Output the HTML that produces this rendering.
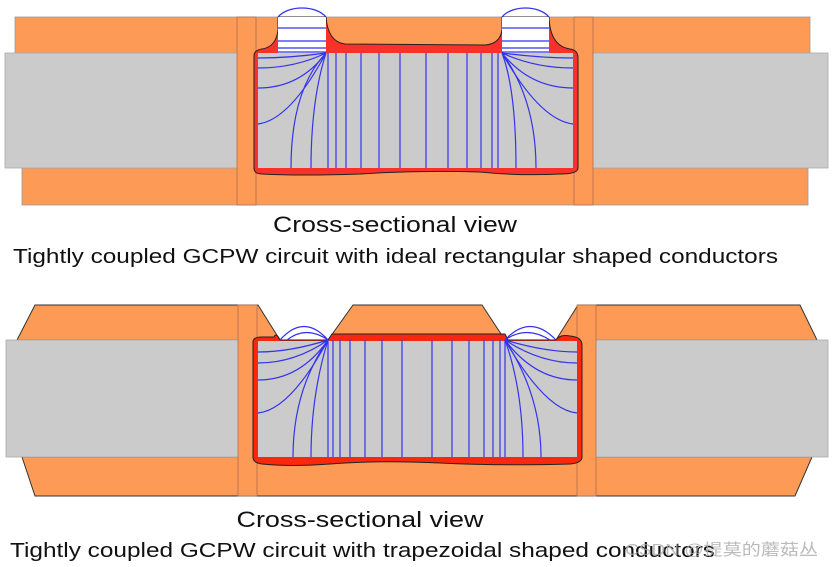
<!DOCTYPE html>
<html><head><meta charset="utf-8"><style>html,body{margin:0;padding:0;background:#fff}svg{display:block}</style></head><body>
<svg width="833" height="567" viewBox="0 0 833 567" xmlns="http://www.w3.org/2000/svg">
<!-- ===== TOP DIAGRAM ===== -->
<rect x="15" y="17" width="795" height="36" fill="#fd9a55" stroke="#999" stroke-width="0.8"/>
<rect x="22" y="168" width="786" height="37" fill="#fd9a55" stroke="#999" stroke-width="0.8"/>
<rect x="5" y="53" width="823" height="115" fill="#cbcbcb" stroke="#aaa" stroke-width="0.8"/>
<rect x="237" y="17" width="19" height="188" fill="#fd9a55" stroke="#b07050" stroke-width="0.8"/>
<rect x="574" y="17" width="19" height="188" fill="#fd9a55" stroke="#b07050" stroke-width="0.8"/>
<!-- red conductor outline -->
<path d="M254,56 Q254,50 262,49 Q276,47 278,30 L278,17 L326,17 Q328,42 345,44 L485,45 Q500,44 502,30 L502,17 L549,17 Q550,46 570,49 Q578,50 578,58 L578,168 Q578,174 560,174 Q520,176 480,172 Q420,170 360,174 Q300,176 262,174 Q254,174 254,168 Z" fill="#f8322a" stroke="#222" stroke-width="1"/>
<rect x="258" y="53" width="315" height="115" fill="#cbcbcb"/>
<rect x="278" y="17" width="48" height="36" fill="#fff"/>
<rect x="502" y="17" width="47" height="36" fill="#fff"/>
<g fill="none" stroke="#3333ee" stroke-width="1.2">
<path d="M278,17 C288,5 316,5 326,17"/><path d="M502,17 C512,5 539,5 549,17"/>
<path d="M278,28H326M278,41H326M278,48H326M278,52H326"/>
<path d="M502,28H549M502,41H549M502,48H549M502,52H549"/>
<path d="M326,53 Q290,58 258,58M326,53 Q295,68 258,68M326,53 Q300,88 258,88M326,53 Q290,120 258,124"/>
<path d="M326,53 Q291,90 291,168M326,53 Q311,100 311,168"/>
<path d="M502,53 Q540,58 573,58M502,53 Q535,68 573,68M502,53 Q530,88 573,88M502,53 Q540,120 573,124"/>
<path d="M502,53 Q516,90 516,168M502,53 Q536,100 536,168"/>
<path d="M328,53V168M336,53V168M346,53V168M361,53V168M379,53V168M400,53V168M426,53V168M448,53V168M467,53V168M481,53V168M492,53V168M498,53V168"/>
</g>
<text x="395" y="232" font-family="Liberation Sans, sans-serif" font-size="22" text-anchor="middle" textLength="244" lengthAdjust="spacingAndGlyphs" fill="#111">Cross-sectional view</text>
<text x="13" y="263" font-family="Liberation Sans, sans-serif" font-size="20" textLength="765" lengthAdjust="spacingAndGlyphs" fill="#111">Tightly coupled GCPW circuit with ideal rectangular shaped conductors</text>

<!-- ===== BOTTOM DIAGRAM ===== -->
<path d="M35,305 L258,305 L280,340 L17,340 Z" fill="#fd9a55" stroke="#333" stroke-width="1"/>
<path d="M353,305 L482,305 L505,340 L328,340 Z" fill="#fd9a55" stroke="#333" stroke-width="1"/>
<path d="M578,305 L800,305 L817,340 L556,340 Z" fill="#fd9a55" stroke="#333" stroke-width="1"/>
<path d="M22,457 L812,457 L795,496 L35,496 Z" fill="#fd9a55" stroke="#333" stroke-width="1"/>
<rect x="6" y="340" width="822" height="117" fill="#cbcbcb" stroke="#aaa" stroke-width="0.8"/>
<rect x="238" y="305" width="19" height="191" fill="#fd9a55" stroke="#b07050" stroke-width="0.8"/>
<rect x="577" y="305" width="19" height="191" fill="#fd9a55" stroke="#b07050" stroke-width="0.8"/>
<path d="M253,342 Q253,337 262,337 L274,337 Q276,332 280,340 L328,340 L332,334 L505,334 L508,340 L556,340 Q560,334 570,336 Q582,337 582,345 L582,457 Q582,463 570,464 Q500,466 440,463 Q380,460 330,464 Q290,467 262,464 Q253,463 253,457 Z" fill="#f8280f" stroke="#222" stroke-width="1"/>
<rect x="258" y="341" width="319" height="116" fill="#cbcbcb"/>
<g fill="none" stroke="#3333ee" stroke-width="1.2">
<path d="M280,340 Q304,313 328,340M287,340 Q306,325 328,340"/>
<path d="M505,340 Q530,313 556,340M505,340 Q526,325 550,340"/>
<path d="M328,340 Q290,352 258,352M328,340 Q295,363 258,363M328,340 Q300,380 258,380M328,340 Q290,410 258,413"/>
<path d="M328,340 Q293,390 293,457M328,340 Q311,395 311,457"/>
<path d="M505,340 Q545,352 577,352M505,340 Q540,363 577,363M505,340 Q535,380 577,380M505,340 Q545,410 577,413"/>
<path d="M505,340 Q523,390 523,457M505,340 Q541,395 541,457"/>
<path d="M328,340V457M333,340V457M340,340V457M350,340V457M365,340V457M382,340V457M402,340V457M432,340V457M452,340V457M469,340V457M484,340V457M493,340V457M500,340V457M505,340V457"/>
</g>
<text x="360" y="527" font-family="Liberation Sans, sans-serif" font-size="22" text-anchor="middle" textLength="247" lengthAdjust="spacingAndGlyphs" fill="#111">Cross-sectional view</text>
<text x="10" y="557" font-family="Liberation Sans, sans-serif" font-size="20" textLength="705" lengthAdjust="spacingAndGlyphs" fill="#111">Tightly coupled GCPW circuit with trapezoidal shaped conductors</text>
<text x="625" y="555" font-family="Liberation Sans, 'Noto Sans CJK SC', sans-serif" font-size="16" textLength="193" lengthAdjust="spacingAndGlyphs" fill="#aaa" fill-opacity="0.8">CSDN @提莫的蘑菇丛</text>
</svg>
</body></html>
